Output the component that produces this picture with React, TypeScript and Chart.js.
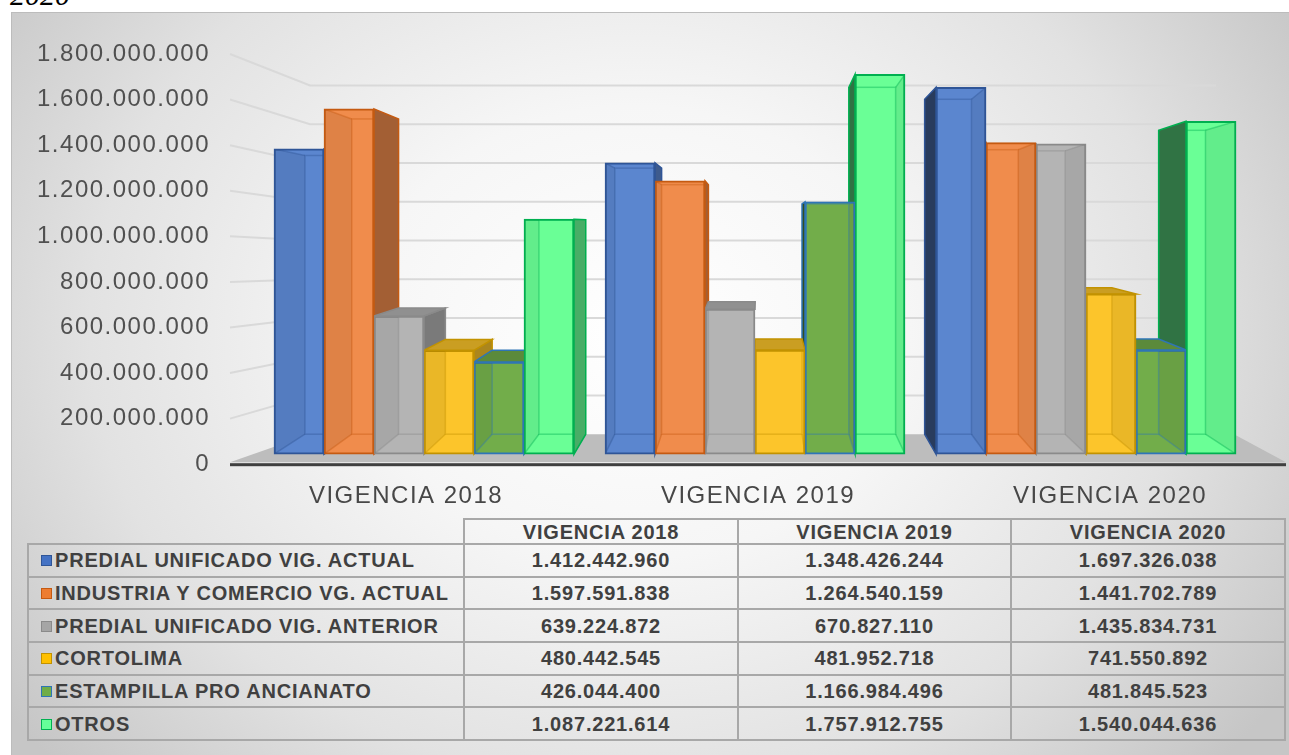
import React, { useEffect, useRef } from "react";
import { Chart, registerables } from "chart.js";

Chart.register(...registerables);

// ---------- data ----------
const categories = ["VIGENCIA 2018", "VIGENCIA 2019", "VIGENCIA 2020"];
const seriesNames = [
  "PREDIAL UNIFICADO VIG. ACTUAL",
  "INDUSTRIA Y COMERCIO VG. ACTUAL",
  "PREDIAL UNIFICADO VIG. ANTERIOR",
  "CORTOLIMA",
  "ESTAMPILLA PRO ANCIANATO",
  "OTROS",
];
const predialActual = [1412442960, 1348426244, 1697326038];
const industriaComercio = [1597591838, 1264540159, 1441702789];
const predialAnterior = [639224872, 670827110, 1435834731];
const cortolima = [480442545, 481952718, 741550892];
const estampilla = [426044400, 1166984496, 481845523];
const otros = [1087221614, 1757912755, 1540044636];
const seriesValues = [predialActual, industriaComercio, predialAnterior, cortolima, estampilla, otros];
const yTickMin = 0;
const yTickMax = 1800000000;
const yTickStep = 200000000;

// ---------- style ----------
const fillColors = ["#5b86cf", "#f08c4c", "#b4b4b4", "#fcc52b", "#72ad4a", "#6aff96"];
const borderColors = ["#2f5597", "#c55a11", "#8a8a8a", "#c29200", "#2e75b6", "#00b050"];
const keyFill = ["#4472c4", "#ed7d31", "#a5a5a5", "#ffc000", "#70ad47", "#66ff99"];
const FONT = "'Liberation Sans', Arial, Helvetica, sans-serif";
const DEPTH_KX = 0.936;
const DEPTH_KY = 0.913;
const VANISH_Y = 0.416;

const fmt = (n: number) => String(Math.round(n)).replace(/\B(?=(\d{3})+(?!\d))/g, ".");

function shade(hex: string, f: number) {
  const n = parseInt(hex.slice(1), 16);
  const r = Math.round(((n >> 16) & 255) * f);
  const g = Math.round(((n >> 8) & 255) * f);
  const b = Math.round((n & 255) * f);
  return `rgb(${r},${g},${b})`;
}

function geom(chart: any, el: any) {
  const ca = chart.chartArea;
  const vx = (ca.left + ca.right) / 2;
  const vy = ca.top + VANISH_Y * (ca.bottom - ca.top);
  const p = el.getProps(["x", "y", "base", "width"], true);
  const x1 = p.x - p.width / 2;
  const x2 = p.x + p.width / 2;
  const yT = Math.min(p.y, p.base);
  const yB = Math.max(p.y, p.base);
  const px = (x: number) => vx + DEPTH_KX * (x - vx);
  const py = (y: number) => vy + DEPTH_KY * (y - vy);
  return { x1, x2, yT, yB, bx1: px(x1), bx2: px(x2), byT: py(yT), byB: py(yB) };
}

function poly(ctx: CanvasRenderingContext2D, pts: number[][]) {
  ctx.beginPath();
  ctx.moveTo(pts[0][0], pts[0][1]);
  for (let i = 1; i < pts.length; i++) ctx.lineTo(pts[i][0], pts[i][1]);
  ctx.closePath();
}

const scene3d = {
  id: "scene3d",
  beforeDraw(chart: any) {
    chart.ctx.letterSpacing = "1.5px";
  },
  beforeDatasetsDraw(chart: any) {
    const ctx: CanvasRenderingContext2D = chart.ctx;
    const ca = chart.chartArea;
    const ys = chart.scales.y;
    const floorBack = ca.bottom - 30;
    ctx.save();
    // back wall gridlines (perspective)
    ctx.strokeStyle = "#d9d9d9";
    ctx.lineWidth = 2;
    for (let v = yTickMin + yTickStep; v <= yTickMax; v += yTickStep) {
      const p = ys.getPixelForValue(v);
      const back = floorBack - 0.85 * (ca.bottom - p);
      ctx.beginPath();
      ctx.moveTo(ca.left, p);
      ctx.lineTo(ca.left + 80, back);
      ctx.lineTo(ca.right - 70, back);
      ctx.stroke();
    }
    // floor
    ctx.fillStyle = "#bdbdbd";
    poly(ctx, [
      [ca.left, ca.bottom - 2],
      [ca.left + 80, floorBack],
      [ca.right - 52, floorBack],
      [ca.right, ca.bottom - 2],
    ]);
    ctx.fill();
    ctx.fillStyle = "#3f3f3f";
    ctx.fillRect(ca.left, ca.bottom - 1, ca.right - ca.left, 3);

    const all: any[] = [];
    chart.data.datasets.forEach((ds: any, s: number) => {
      chart.getDatasetMeta(s).data.forEach((el: any) => all.push({ s, g: geom(chart, el) }));
    });
    // side faces
    all.forEach(({ s, g }) => {
      const c = fillColors[s];
      if (g.bx2 > g.x2 + 0.5) {
        ctx.fillStyle = shade(c, 0.68);
        poly(ctx, [[g.x2, g.yT], [g.bx2, g.byT], [g.bx2, g.byB], [g.x2, g.yB]]);
        ctx.fill();
        ctx.strokeStyle = borderColors[s];
        ctx.lineWidth = 1.5;
        ctx.stroke();
      }
      if (g.bx1 < g.x1 - 0.5) {
        ctx.fillStyle = shade(c, 0.45);
        poly(ctx, [[g.x1, g.yT], [g.bx1, g.byT], [g.bx1, g.byB], [g.x1, g.yB]]);
        ctx.fill();
        ctx.strokeStyle = borderColors[s];
        ctx.lineWidth = 1.5;
        ctx.stroke();
      }
    });
    // top faces
    all.forEach(({ s, g }) => {
      if (g.byT < g.yT - 0.5) {
        ctx.fillStyle = shade(fillColors[s], 0.8);
        poly(ctx, [[g.x1, g.yT], [g.x2, g.yT], [g.bx2, g.byT], [g.bx1, g.byT]]);
        ctx.fill();
        ctx.strokeStyle = borderColors[s];
        ctx.lineWidth = 1.5;
        ctx.stroke();
      }
    });
    ctx.restore();
  },
  afterDatasetsDraw(chart: any) {
    const ctx: CanvasRenderingContext2D = chart.ctx;
    chart.data.datasets.forEach((ds: any, s: number) => {
      chart.getDatasetMeta(s).data.forEach((el: any) => {
        const g = geom(chart, el);
        ctx.save();
        ctx.beginPath();
        ctx.rect(g.x1 + 1, g.yT + 1, g.x2 - g.x1 - 2, g.yB - g.yT - 2);
        ctx.clip();
        ctx.fillStyle = "rgba(0,0,0,0.07)";
        if (g.bx1 > g.x1) poly(ctx, [[g.x1, g.yT], [g.bx1, g.byT], [g.bx1, g.byB], [g.x1, g.yB]]);
        else poly(ctx, [[g.x2, g.yT], [g.bx2, g.byT], [g.bx2, g.byB], [g.x2, g.yB]]);
        ctx.fill();
        ctx.globalAlpha = 0.4;
        ctx.strokeStyle = borderColors[s];
        ctx.lineWidth = 1.5;
        ctx.strokeRect(g.bx1, g.byT, g.bx2 - g.bx1, g.byB - g.byT);
        ctx.beginPath();
        ctx.moveTo(g.x1, g.yT); ctx.lineTo(g.bx1, g.byT);
        ctx.moveTo(g.x2, g.yT); ctx.lineTo(g.bx2, g.byT);
        ctx.moveTo(g.x1, g.yB); ctx.lineTo(g.bx1, g.byB);
        ctx.moveTo(g.x2, g.yB); ctx.lineTo(g.bx2, g.byB);
        ctx.stroke();
        ctx.restore();
      });
    });
  },
  afterDraw(chart: any) {
    chart.ctx.letterSpacing = "0px";
  },
};

function ChartCanvas() {
  const ref = useRef<HTMLCanvasElement | null>(null);
  useEffect(() => {
    if (!ref.current) return;
    const chart = new Chart(ref.current, {
      type: "bar",
      data: {
        labels: categories,
        datasets: seriesValues.map((vals, s) => ({
          label: seriesNames[s],
          data: vals.map((v, i) => ({ x: i, y: v })),
          backgroundColor: fillColors[s],
          borderColor: borderColors[s],
          borderWidth: 2,
          borderSkipped: false,
          barThickness: 50,
          xAxisID: "xb",
          yAxisID: "yb",
        })),
      } as any,
      options: {
        responsive: false,
        animation: false,
        layout: { padding: { top: 42, right: 3, bottom: 8, left: 0 } },
        plugins: { legend: { display: false }, tooltip: { enabled: false } },
        scales: {
          x: {
            type: "category",
            labels: categories,
            position: "bottom",
            offset: true,
            grid: { display: false, drawTicks: false },
            border: { display: false },
            ticks: { padding: 18, color: "#474747", font: { family: FONT, size: 24, lineHeight: 1.2 } },
          },
          xb: { type: "linear", axis: "x", display: false, offset: false, min: -0.586, max: 2.604 },
          y: {
            type: "linear",
            position: "left",
            min: yTickMin,
            max: yTickMax,
            grid: { display: false, drawTicks: false },
            border: { display: false },
            ticks: {
              stepSize: yTickStep,
              padding: 20,
              color: "#505050",
              font: { family: FONT, size: 24, lineHeight: 1.2 },
              callback: (v: any) => fmt(Number(v)),
            },
            afterFit: (sc: any) => {
              sc.width = 219;
            },
          },
          yb: { type: "linear", axis: "y", display: false, min: -46400000, max: 1851500000 },
        },
      } as any,
      plugins: [scene3d],
    });
    return () => chart.destroy();
  }, []);
  return (
    <canvas
      ref={ref}
      width={1278}
      height={525}
      style={{ position: "absolute", left: 11, top: 12, width: 1278, height: 525 }}
    />
  );
}

export default function App() {
  const cell: React.CSSProperties = {
    border: "2px solid #a8a8a8",
    padding: 0,
    textAlign: "center",
    verticalAlign: "middle",
    whiteSpace: "nowrap",
    lineHeight: "1",
  };
  return (
    <div
      style={{
        position: "fixed",
        left: 0,
        top: 0,
        width: 1289,
        height: 755,
        overflow: "hidden",
        background: "#ffffff",
      }}
    >
      <div
        style={{
          position: "absolute",
          left: 10,
          top: -20,
          font: "italic 30px 'Liberation Serif', 'Times New Roman', serif",
          lineHeight: "1",
          color: "#000",
        }}
      >
        2020
      </div>
      <div
        style={{
          position: "absolute",
          left: 11,
          top: 12,
          width: 1300,
          height: 760,
          border: "1px solid #bcbcbc",
          background:
            "radial-gradient(ellipse 60% 85% at 48% 42%, #ffffff 0%, #f6f6f6 35%, #e2e2e2 70%, #c6c6c6 100%)",
        }}
      />
      <table
        style={{
          position: "absolute",
          left: 27,
          top: 518,
          borderCollapse: "collapse",
          tableLayout: "fixed",
          width: 1257,
          font: `bold 20px ${FONT}`,
          letterSpacing: "0.8px",
          color: "#404040",
        }}
      >
        <colgroup>
          <col style={{ width: 436 }} />
          <col style={{ width: 274 }} />
          <col style={{ width: 273 }} />
          <col style={{ width: 274 }} />
        </colgroup>
        <thead>
          <tr style={{ height: 25 }}>
            <th style={{ ...cell, border: "none", borderBottom: "2px solid #a8a8a8" }}></th>
            {categories.map((c) => (
              <th key={c} style={cell}>
                {c}
              </th>
            ))}
          </tr>
        </thead>
        <tbody>
          {seriesNames.map((name, s) => (
            <tr key={name} style={{ height: 32.7 }}>
              <td style={{ ...cell, textAlign: "left", paddingLeft: 12 }}>
                <span
                  style={{
                    display: "inline-block",
                    width: 9,
                    height: 9,
                    background: keyFill[s],
                    border: `1.5px solid ${borderColors[s]}`,
                    marginRight: 3,
                    verticalAlign: "1px",
                  }}
                />
                {name}
              </td>
              {seriesValues[s].map((v, i) => (
                <td key={i} style={cell}>
                  {fmt(v)}
                </td>
              ))}
            </tr>
          ))}
        </tbody>
      </table>
      <ChartCanvas />
    </div>
  );
}
